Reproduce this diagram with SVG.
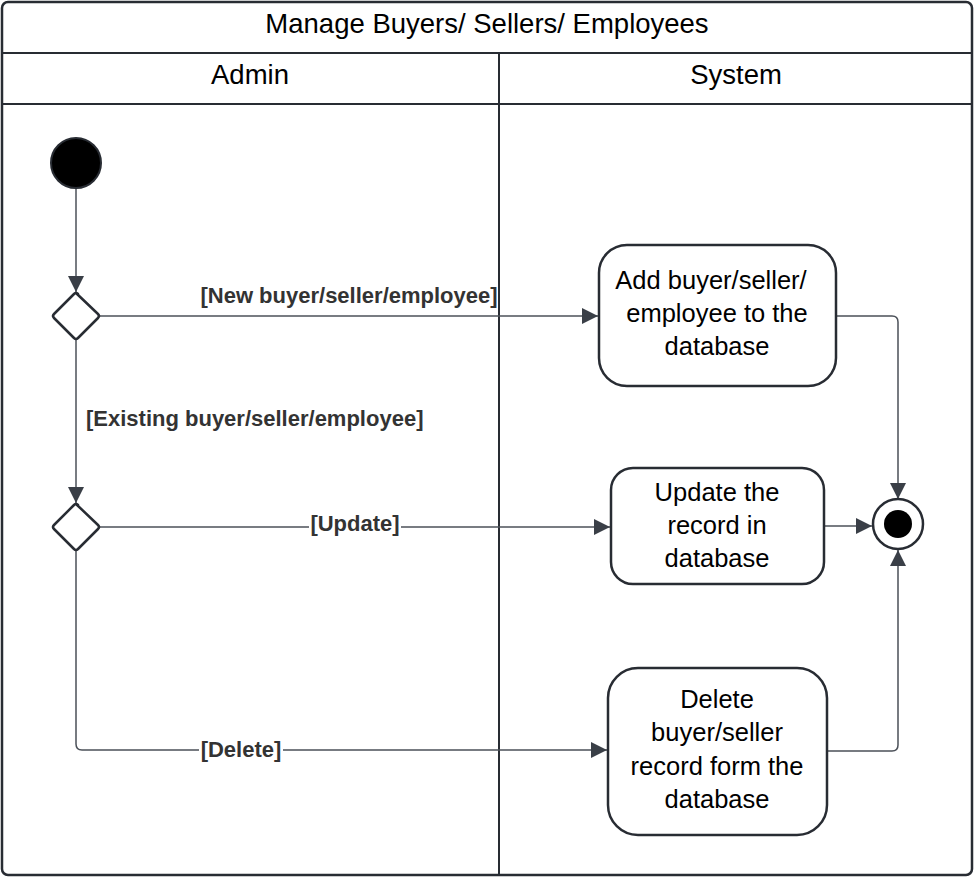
<svg xmlns="http://www.w3.org/2000/svg" width="974" height="877" viewBox="0 0 974 877">
<defs>
<style>
.frame{fill:#fff;stroke:#282c33;stroke-width:2.5}
.ln{fill:none;stroke:#282c33;stroke-width:2}
.node{fill:#fff;stroke:#282c33;stroke-width:2.5}
.conn{fill:none;stroke:#4b5058;stroke-width:1.5}
.hdr{font-family:"Liberation Sans",Arial,sans-serif;font-size:27.5px;fill:#000;text-anchor:middle}
.txt{font-family:"Liberation Sans",Arial,sans-serif;font-size:25.5px;fill:#000;text-anchor:middle}
.lbl{font-family:"Liberation Sans",Arial,sans-serif;font-size:22px;font-weight:bold;fill:#333;text-anchor:middle}
.lblbg{fill:#fff}
</style>
<marker id="arr" viewBox="0 0 10 10" refX="10" refY="5" markerWidth="16" markerHeight="16" markerUnits="userSpaceOnUse" orient="auto">
<path d="M0,0 L10,5 L0,10 z" fill="#3a3f47"/>
</marker>
</defs>
<g id="pool">
<rect class="frame" x="2" y="2" width="970" height="873" rx="6"/>
<line class="ln" x1="2" y1="53" x2="972" y2="53"/>
<line class="ln" x1="2" y1="104" x2="972" y2="104"/>
<line class="ln" x1="499" y1="53" x2="499" y2="875"/>
<text class="hdr" x="487" y="33">Manage Buyers/ Sellers/ Employees</text>
<text class="hdr" x="250" y="84">Admin</text>
<text class="hdr" x="736" y="84">System</text>
</g>
<g id="connectors">
<line class="conn" x1="76" y1="188" x2="76" y2="292" marker-end="url(#arr)"/>
<line class="conn" x1="100" y1="316" x2="598" y2="316" marker-end="url(#arr)"/>
<line class="conn" x1="76" y1="340" x2="76" y2="503" marker-end="url(#arr)"/>
<line class="conn" x1="100" y1="527" x2="610" y2="527" marker-end="url(#arr)"/>
<path class="conn" d="M76,551 L76,744 Q76,750 82,750 L607,750" marker-end="url(#arr)"/>
<path class="conn" d="M836,316 L892,316 Q898,316 898,322 L898,499" marker-end="url(#arr)"/>
<line class="conn" x1="824" y1="526" x2="872" y2="526" marker-end="url(#arr)"/>
<path class="conn" d="M827,751 L892,751 Q898,751 898,745 L898,550" marker-end="url(#arr)"/>
<text class="lbl" x="349" y="303">[New buyer/seller/employee]</text>
<text class="lbl" x="86" y="426" style="text-anchor:start">[Existing buyer/seller/employee]</text>
<rect class="lblbg" x="309" y="513" width="92" height="24"/>
<text class="lbl" x="355" y="531">[Update]</text>
<rect class="lblbg" x="199" y="739" width="84" height="24"/>
<text class="lbl" x="241" y="757">[Delete]</text>
</g>
<g id="start">
<circle cx="76" cy="163" r="25" fill="#000" stroke="#282c33" stroke-width="2"/>
</g>
<g id="decision1">
<path class="node" d="M76,293 L98,314 Q100,316 98,318 L78,338 Q76,340 74,338 L54,318 Q52,316 54,314 L74,294 Q76,292 78,294 Z" stroke-linejoin="round"/>
</g>
<g id="decision2">
<path class="node" d="M76,504 L98,525 Q100,527 98,529 L78,549 Q76,551 74,549 L54,529 Q52,527 54,525 L74,505 Q76,503 78,505 Z" stroke-linejoin="round"/>
</g>
<g id="add">
<rect class="node" x="599" y="245" width="237" height="141" rx="28"/>
<text class="txt" x="711" y="289">Add buyer/seller/</text>
<text class="txt" x="717" y="322">employee to the</text>
<text class="txt" x="717" y="355">database</text>
</g>
<g id="update">
<rect class="node" x="611" y="468" width="213" height="116" rx="22"/>
<text class="txt" x="717" y="501">Update the</text>
<text class="txt" x="717" y="534">record in</text>
<text class="txt" x="717" y="567">database</text>
</g>
<g id="delete">
<rect class="node" x="608" y="668" width="219" height="167" rx="30"/>
<text class="txt" x="717" y="708">Delete</text>
<text class="txt" x="717" y="741">buyer/seller</text>
<text class="txt" x="717" y="775">record form the</text>
<text class="txt" x="717" y="808">database</text>
</g>
<g id="final">
<circle cx="898" cy="524" r="25" fill="#fff" stroke="#282c33" stroke-width="2.5"/>
<circle cx="898" cy="524" r="14" fill="#000"/>
</g>
</svg>
